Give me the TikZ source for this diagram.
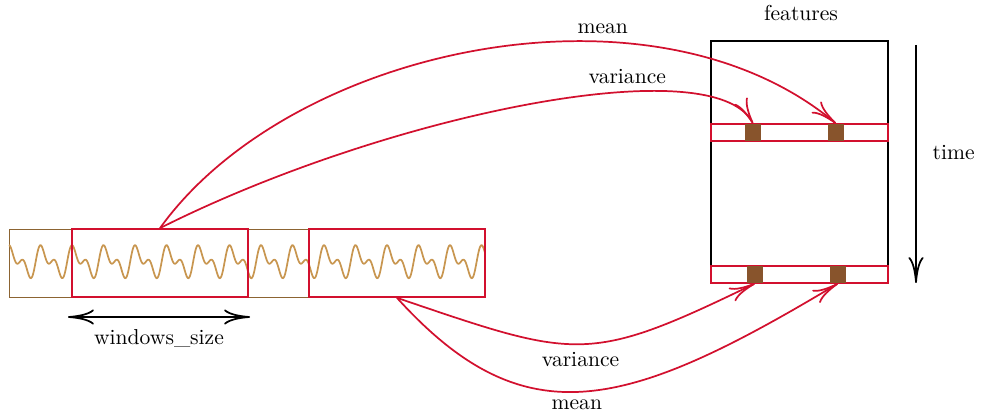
\documentclass[tikz,border=0pt]{standalone}
\definecolor{winred}{RGB}{210,16,46}
\definecolor{wavecol}{RGB}{200,150,80}
\definecolor{framecol}{RGB}{140,100,50}
\definecolor{featcol}{RGB}{136,84,44}
\usepackage{tikz}
\usetikzlibrary{arrows.meta,positioning,fit}

\begin{document}
\begin{tikzpicture}[x=0.463pt,y=-0.463pt,>={To[length=12pt,width=7pt]},
    winbox/.style={draw=winred,thick,inner sep=0pt},
    featsq/.style={fill=featcol,minimum width=7.4pt,minimum height=7.9pt,inner sep=0pt},
    featarrow/.style={->,thick,draw=winred}]
      \useasboundingbox (0,0) rectangle (982,413);
      \node[draw=framecol,thin,inner sep=0pt,fit={(9,229) (485,297)}] (sig) {};
      \draw[wavecol,thick] plot[domain=9:485,samples=800,smooth] (\x,{261.7-10.5*(sin(55.4+(\x-9)*11.4286)+0.8*sin(2*(55.4+(\x-9)*11.4286)))});
      \node[winbox,fit={(72,229) (248,297)}] (win1) {};
      \node[winbox,fit={(309,229) (485,297)}] (win2) {};
      \coordinate (ws1) at (68,317);
      \coordinate (ws2) at (250,317);
      \draw[<->,thick] (ws1) -- (ws2) node[midway,below=2pt] (wslabel) {windows\_size};
      \node[draw,thick,inner sep=0pt,fit={(711,41) (888,283)}] (feat) {};
      \node (featlabel) at (801,13) {features};
      \node[winbox,fit={(711,124) (888,141)}] (row1) {};
      \node[winbox,fit={(711,266) (888,283)}] (row2) {};
      \node[featsq] (sq11) at (753,132.5) {};
      \node[featsq] (sq12) at (836,132.5) {};
      \node[featsq] (sq21) at (755,274.5) {};
      \node[featsq] (sq22) at (838,274.5) {};
      \coordinate (t1) at (916,45);
      \coordinate (t2) at (916,283);
      \draw[->,thick] (t1) -- (t2) node[pos=0.45,right=4pt] (timelabel) {time};
      \draw[featarrow] (win1.north) .. controls (290,47) and (652,-30) .. (sq12.north) node[pos=0.66,above] (meanup) {mean};
      \draw[featarrow] (win1.north) .. controls (385,115) and (712,48) .. (sq11.north) node[pos=0.66,above] (varup) {variance};
      \draw[featarrow] (win2.south) .. controls (577,359) and (587,365) .. (sq21.south) node[pos=0.5,below] (vardown) {variance};
      \draw[featarrow] (win2.south) .. controls (524,438) and (624,412) .. (sq22.south) node[pos=0.48,below] (meandown) {mean};
    \end{tikzpicture}
\end{document}
